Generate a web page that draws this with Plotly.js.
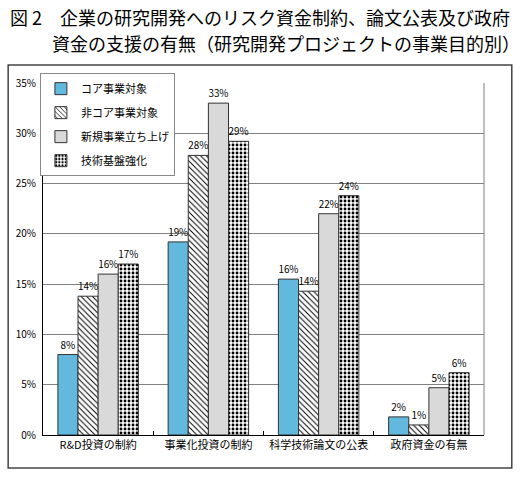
<!DOCTYPE html>
<html>
<head>
<meta charset="utf-8">
<script src="https://cdn.plot.ly/plotly-3.0.1.min.js"></script>
<style>
  html, body { margin: 0; padding: 0; background: #fff; }
  #chart { width: 520px; height: 480px; }
</style>
</head>
<body>
<div id="chart"></div>
<script>
const categories = ["R&D投資の制約", "事業化投資の制約", "科学技術論文の公表", "政府資金の有無"];
const seriesNames = ["コア事業対象", "非コア事業対象", "新規事業立ち上げ", "技術基盤強化"];
const coreValues = [8.0, 19.2, 15.5, 1.8];
const nonCoreValues = [13.8, 27.8, 14.3, 1.0];
const newBizValues = [16.0, 33.0, 22.0, 4.7];
const baseTechValues = [17.0, 29.2, 23.8, 6.2];
const valueLabels = [
  ["8%", "19%", "16%", "2%"],
  ["14%", "28%", "14%", "1%"],
  ["16%", "33%", "22%", "5%"],
  ["17%", "29%", "24%", "6%"],
];
const yTicks = [0, 5, 10, 15, 20, 25, 30, 35];

const jpFont = "'Noto Sans CJK JP', 'Noto Sans', sans-serif";

function barTrace(index, values, marker) {
  return {
    type: "bar",
    name: seriesNames[index],
    legendgroup: "g" + index,
    x: categories,
    y: values,
    text: valueLabels[index],
    textposition: "outside",
    cliponaxis: false,
    textfont: { size: 10, color: "#000", family: jpFont },
    marker: marker,
    hoverinfo: "skip",
  };
}

const data = [
  barTrace(0, coreValues, { color: "#62b8dd", line: { color: "#333", width: 1 } }),
  barTrace(1, nonCoreValues, {
    color: "#fff",
    line: { color: "#333", width: 1 },
    pattern: { shape: "\\", fgcolor: "#000", bgcolor: "#fff", size: 4, solidity: 0.25 },
  }),
  barTrace(2, newBizValues, { color: "#d9d9d9", line: { color: "#333", width: 1 } }),
  barTrace(3, baseTechValues, {
    color: "#fff",
    line: { color: "#333", width: 1 },
    pattern: { shape: ".", fgcolor: "#000", bgcolor: "#fff", size: 4, solidity: 0.4 },
  }),
];

const layout = {
  width: 520,
  height: 480,
  margin: { l: 43, r: 36, t: 83, b: 45 },
  paper_bgcolor: "#fff",
  plot_bgcolor: "#fff",
  font: { family: jpFont, color: "#000", size: 10 },
  barmode: "group",
  bargap: 0.27,
  bargroupgap: 0,
  showlegend: true,
  legend: {
    x: -0.007,
    y: 1.028,
    xanchor: "left",
    yanchor: "top",
    bgcolor: "#fff",
    bordercolor: "#888",
    borderwidth: 1,
    font: { size: 11, family: jpFont },
    traceorder: "grouped",
    tracegroupgap: 5,
    itemwidth: 30,
  },
  xaxis: {
    type: "category",
    showline: true,
    linecolor: "#000",
    linewidth: 1,
    ticks: "inside",
    tickson: "boundaries",
    ticklen: 4,
    tickcolor: "#000",
    showgrid: false,
    tickfont: { size: 11, family: jpFont },
    fixedrange: true,
  },
  yaxis: {
    range: [0, 35],
    tickvals: yTicks,
    ticktext: yTicks.map((v) => v + "%"),
    showline: true,
    linecolor: "#000",
    linewidth: 1,
    showgrid: true,
    gridcolor: "#808080",
    gridwidth: 1,
    zeroline: false,
    ticks: "",
    ticklabelstandoff: 4,
    tickfont: { size: 10, family: jpFont },
    fixedrange: true,
  },
  shapes: [
    // plot area right edge
    { type: "line", xref: "paper", yref: "paper", x0: 1, x1: 1, y0: 0, y1: 1, line: { color: "#808080", width: 1 } },
    // outer frame round the chart
    { type: "rect", xref: "paper", yref: "paper", x0: -0.079, x1: 1.063, y0: -0.094, y1: 1.051, line: { color: "#444", width: 1.5 } },
  ],
  annotations: [
    {
      xref: "paper", yref: "paper", x: -0.079, y: 1.1875, xanchor: "left", yanchor: "middle",
      text: "図 2　企業の研究開発へのリスク資金制約、論文公表及び政府",
      showarrow: false, font: { size: 18, family: jpFont, color: "#000" },
    },
    {
      xref: "paper", yref: "paper", x: 0.016, y: 1.114, xanchor: "left", yanchor: "middle",
      text: "資金の支援の有無（研究開発プロジェクトの事業目的別）",
      showarrow: false, font: { size: 18, family: jpFont, color: "#000" },
    },
  ],
};

Plotly.newPlot("chart", data, layout, { displayModeBar: false, staticPlot: true });
</script>
</body>
</html>
